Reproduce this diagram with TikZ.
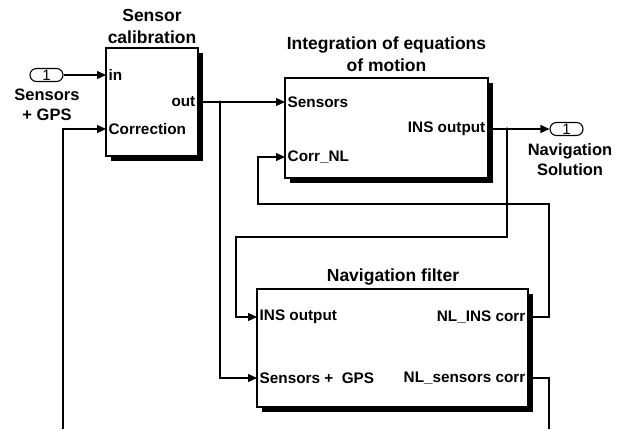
\documentclass[tikz,border=0pt]{standalone}
\usepackage{fontspec}
\setmainfont{Liberation Sans}
\usetikzlibrary{arrows.meta,shadows}
\begin{document}
\begin{tikzpicture}[x=1pt,y=-1pt,
  wire/.style={line width=1.2pt},
  sig/.style={wire,-{Triangle[length=9pt,width=8pt]}},
  blk/.style={draw,line width=1.1pt,fill=white,inner sep=0pt,
    drop shadow={shadow xshift=4.5pt,shadow yshift=-4.5pt,fill=black,opacity=1}},
  io/.style={draw,line width=1.1pt,rounded corners=6.5pt,minimum width=33pt,
    minimum height=13pt,inner sep=0pt,font=\fontsize{15}{15}\selectfont},
  ttl/.style={align=center,font=\fontsize{17.5}{22}\selectfont\bfseries},
  iolbl/.style={align=center,font=\fontsize{16.5}{20.5}\selectfont\bfseries},
  plbl/.style={inner sep=0pt,font=\fontsize{15.3}{15.3}\selectfont\bfseries},
  dot/.style={circle,fill=black,inner sep=0pt,minimum size=3.5pt}]
\useasboundingbox (0,0) rectangle (626,429);

% blocks
\node[blk,minimum width=92pt,minimum height=108pt] (cal) at (152,102) {};
\node[blk,minimum width=203pt,minimum height=100pt] (ins) at (386.5,128) {};
\node[blk,minimum width=271pt,minimum height=118pt] (nav) at (392.5,348) {};

% block titles
\node[ttl] (calT) at (152,26) {Sensor\\calibration};
\node[ttl] (insT) at (386.5,54) {Integration of equations\\of motion};
\node[ttl] (navT) at (393,277) {Navigation filter};

% port labels
\node[plbl,anchor=west] (lIn) at (108.5,75) {in};
\node[plbl,anchor=east] (lOut) at (195.5,102) {out};
\node[plbl,anchor=west] (lCorr) at (108.5,129) {Correction};
\node[plbl,anchor=west] (lSens) at (287.5,102) {Sensors};
\node[plbl,anchor=west] (lCNL) at (287.5,157) {Corr\_NL};
\node[plbl,anchor=east] (lINS) at (485.5,129) {INS output};
\node[plbl,anchor=west] (lNINS) at (259.5,317) {INS output};
\node[plbl,anchor=west] (lNSG) at (259.5,378) {Sensors +\ \ GPS};
\node[plbl,anchor=east] (lNL1) at (525.5,317) {NL\_INS corr};
\node[plbl,anchor=east] (lNL2) at (525.5,378) {NL\_sensors corr};

% inport / outport
\node[io] (in1) at (46.5,75) {1};
\node[iolbl] (in1L) at (47,105) {Sensors\\+ GPS};
\node[io] (out1) at (566.5,129) {1};
\node[iolbl] (out1L) at (570,159.5) {Navigation\\Solution};

% port coordinates
\coordinate (calIn) at (106,75);
\coordinate (calOut) at (198,102);
\coordinate (calCorr) at (106,129);
\coordinate (insSens) at (285,102);
\coordinate (insCorr) at (285,157);
\coordinate (insOut) at (488,129);
\coordinate (navIns) at (257,317);
\coordinate (navSG) at (257,378);
\coordinate (navNL1) at (528,317);
\coordinate (navNL2) at (528,378);
\coordinate (j1) at (220,102);
\coordinate (j2) at (507,129);
\coordinate (loopR) at (549,429);
\coordinate (loopL) at (63,429);

% signals
\draw[sig] (in1.east) -- (calIn);
\draw[sig] (calOut) -- (insSens);
\draw[sig] (j1) |- (navSG);
\draw[sig] (insOut) -- (out1.west);
\draw[sig] (j2) -- (507,237) -| (236,317) -- (navIns);
\draw[sig] (navNL1) -- (549,317) |- (258,204) |- (insCorr);
\draw[wire] (navNL2) -| (loopR);
\draw[sig] (loopL) |- (calCorr);
\node[dot] (d1) at (j1) {};
\node[dot] (d2) at (j2) {};
\end{tikzpicture}
\end{document}
